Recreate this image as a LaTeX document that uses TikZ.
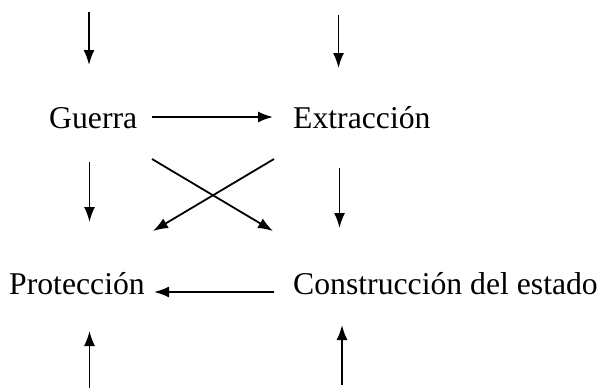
\documentclass[tikz,border=0pt]{standalone}
\usepackage{fontspec}
\setmainfont{Liberation Serif}
\usetikzlibrary{arrows.meta,calc}
\begin{document}
\begin{tikzpicture}[x=1pt,y=-1pt,
  lbl/.style={anchor=base west,inner sep=0pt,font=\fontsize{31.7}{38}\selectfont},
  arr/.style={line width=1.8pt,-{Latex[length=15pt,width=11pt]}},
  ln/.style={line width=1.8pt}]
\useasboundingbox (0,0) rectangle (601,388);
\node[lbl] (g) at (49,128) {Guerra};
\node[lbl] (e) at (293,128) {Extracción};
\node[lbl] (p) at (9,294) {Protección};
\node[lbl] (c) at (293,294) {Construcción del estado};
% free ends
\coordinate (ta) at (89,12);
\coordinate (tb) at (89,65);
\coordinate (tc) at (338.5,15);
\coordinate (td) at (338.5,68);
\coordinate (ba) at (89.5,388);
\coordinate (bb) at (89.5,331);
\coordinate (bc) at (342,385);
\coordinate (bd) at (342,325);
\draw[arr] (ta) -- (tb);
\draw[arr] (tc) -- (td);
\draw[arr] (ba) -- (bb);
\draw[arr] (bc) -- (bd);
% node to node
\draw[arr] ($(g.base west)+(103,-11)$) -- ($(e.base west)+(-20,-11)$);
\draw[arr] ($(g.base west)+(40.5,34)$) -- ($(p.base west)+(80.5,-72)$);
\draw[arr] ($(e.base west)+(46.5,40)$) -- ($(c.base west)+(46.5,-66)$);
\draw[arr] ($(g.base west)+(103,31)$) -- ($(c.base west)+(-20,-63)$);
\draw[arr] ($(e.base west)+(-19,31)$) -- ($(p.base west)+(144,-63)$);
\draw[arr] ($(c.base west)+(-19,-2)$) -- ($(p.base west)+(145,-2)$);
\end{tikzpicture}
\end{document}
